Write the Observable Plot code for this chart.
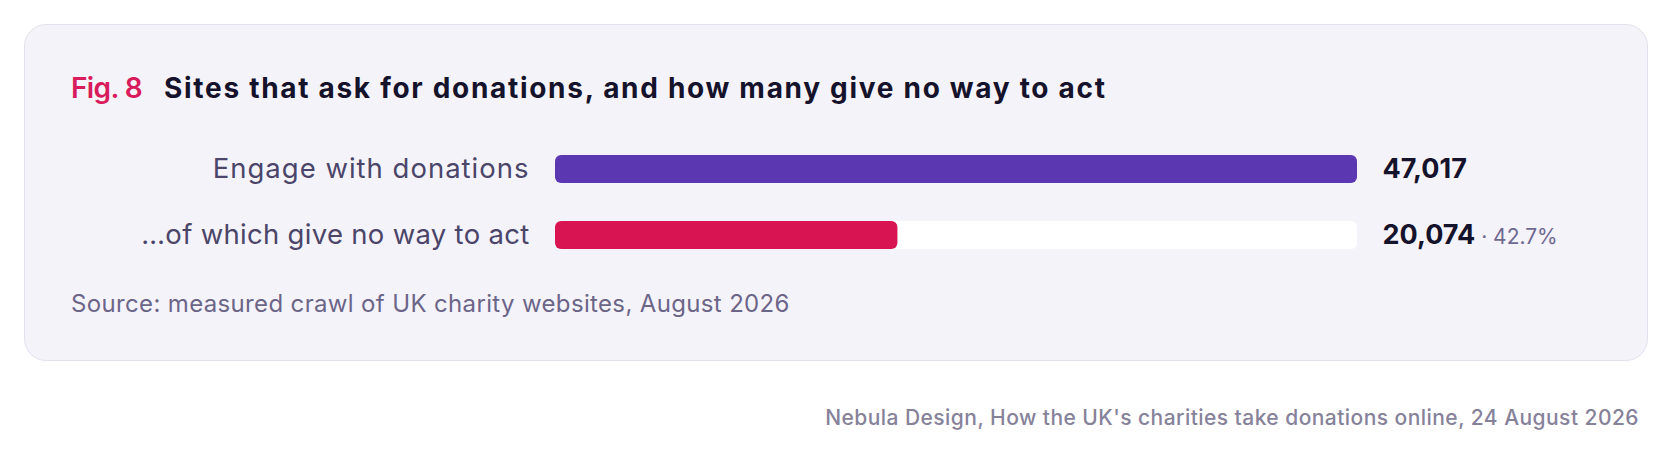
<!DOCTYPE html>
<html>
<head>
<meta charset="utf-8">
<script src="https://cdn.jsdelivr.net/npm/d3@7"></script>
<script src="https://cdn.jsdelivr.net/npm/@observablehq/plot@0.6"></script>
<style>
  html, body { margin: 0; padding: 0; background: #ffffff; }
  body { width: 1672px; height: 457px; position: relative; overflow: hidden; font-family: Inter, "Noto Sans", sans-serif; }
  .card { position: absolute; left: 24px; top: 24px; width: 1622px; height: 335px; background: #f5f3fa; border: 1.5px solid #e4e1ee; border-radius: 22px; }
  .title { position: absolute; left: 71px; top: 72px; font-size: 28px; line-height: 32px; font-weight: 700; color: #15122b; white-space: nowrap; letter-spacing: 1.7px; }
  .title .fig { color: #d81b5a; font-weight: 600; margin-right: 22px; letter-spacing: -0.6px; }
  #chart { position: absolute; left: 24px; top: 130px; }
  .source { position: absolute; left: 71px; top: 290px; font-size: 24px; line-height: 28px; color: #6b6588; white-space: nowrap; letter-spacing: 0.35px; }
  .footer { position: absolute; right: 33px; top: 405px; font-size: 21px; line-height: 26px; font-weight: 500; color: #86829a; white-space: nowrap; letter-spacing: 0.45px; }
</style>
</head>
<body>
<div class="card"></div>
<div class="title"><span class="fig">Fig. 8</span>Sites that ask for donations, and how many give no way to act</div>
<div id="chart"></div>
<div class="source">Source: measured crawl of UK charity websites, August 2026</div>
<div class="footer">Nebula Design, How the UK's charities take donations online, 24 August 2026</div>
<script>
const categories = ["Engage with donations", "…of which give no way to act"];
const values = [47017, 20074];
const barColors = ["#5b37b1", "#d81453"];

const total = values[0];
const rows = categories.map((c, i) => ({ category: c, value: values[i], color: barColors[i], total }));
const fmt = d3.format(",");
const pct = d => (d.value / d.total * 100).toFixed(1) + "%";

const plot = Plot.plot({
  width: 1623,
  height: 150,
  marginLeft: 531,
  marginRight: 290,
  marginTop: 0,
  marginBottom: 0,
  style: { background: "transparent", fontFamily: "Inter, 'Noto Sans', sans-serif", overflow: "visible" },
  x: { domain: [0, total], axis: null },
  y: { domain: categories, range: [25, 119], paddingInner: 38 / 66, paddingOuter: 0, axis: null },
  marks: [
    Plot.barX(rows, { y: "category", x1: 0, x2: "total", fill: "#ffffff", rx: 6 }),
    Plot.barX(rows, { y: "category", x1: 0, x2: "value", fill: d => d.color, rx: 6 }),
    Plot.text(rows, { y: "category", x: 0, text: "category", textAnchor: "end", dx: -26, fontSize: 27.5, fill: "#4a4569" }),
    Plot.text(rows, { y: "category", x: "total", text: d => fmt(d.value), textAnchor: "start", dx: 25, fontSize: 27, fontWeight: 700, fill: "#15122b" })
  ]
});

// append the share of the subset as a smaller annotation after its value
const textGroups = d3.select(plot).selectAll('g[aria-label="text"]').nodes();
const labelTexts = d3.select(textGroups[0]).selectAll("text");
labelTexts.attr("letter-spacing", (d, i) => i === 0 ? "1px" : "0.3px");
const valueTexts = d3.select(textGroups[textGroups.length - 1]).selectAll("text").nodes();
rows.forEach((d, i) => {
  if (i > 0) {
    d3.select(valueTexts[i]).append("tspan")
      .attr("font-size", 21).attr("font-weight", 400).attr("fill", "#6e6890")
      .text(" · " + pct(d));
  }
});
document.getElementById("chart").appendChild(plot);
</script>
</body>
</html>
